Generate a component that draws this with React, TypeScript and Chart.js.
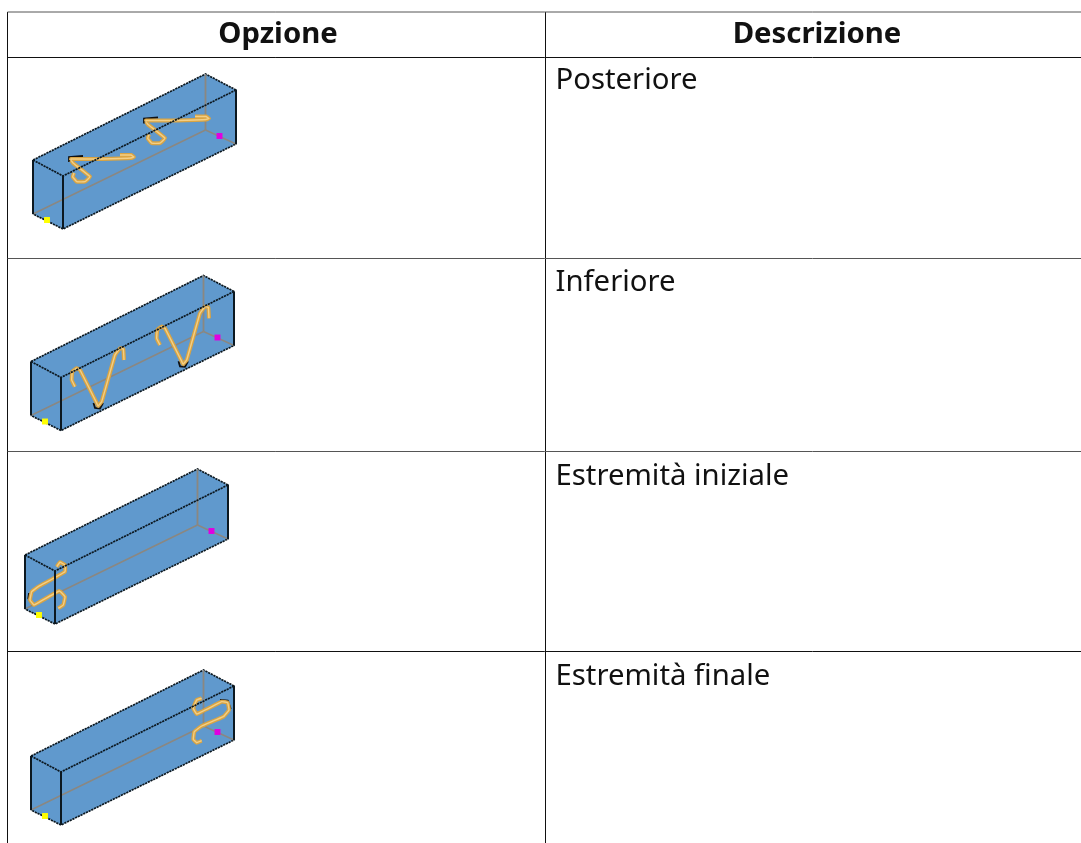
import React, { useEffect, useRef } from "react";
import { Chart, registerables } from "chart.js";

Chart.register(...registerables);

type P = [number, number];

const columnHeaders = ["Opzione", "Descrizione"];
const rowLabels = ["Posteriore", "Inferiore", "Estremità iniziale", "Estremità finale"];

const tableVerticals = [7.5, 545.5];
const columnCentres = [278, 817];
const tableRight = 1081;
const tableHorizontals = [12, 57.5, 258.5, 451.5, 651.5];
const labelBaselines = [89, 291, 485, 685];
const tableBottom = 843;

// Reference box, and where each of the four boxes sits relative to it
const boxOutline: P[] = [[33, 160], [205.5, 74], [236, 90], [236, 144], [63, 229], [33, 214]];
const boxFrontEdges: P[][] = [
  [[33, 160], [63, 176], [236, 90]],
  [[63, 176], [63, 229]],
  [[33, 160], [33, 214]],
  [[236, 90], [236, 144]],
];
const boxHiddenEdges: P[][] = [
  [[205.5, 74], [205.5, 130]],
  [[205.5, 130], [33, 214]],
  [[205.5, 130], [236, 144]],
];
const yellowPoint: P = [47, 220];
const magentaPoint: P = [219.5, 136];
const boxOffsets: P[] = [[0, 0], [-2, 201.5], [-8, 395], [-2, 596]];

const backWireA: P[] = [[71, 160], [73, 163], [90, 176.7], [85, 181.7], [76.7, 181.7], [72.7, 176.7], [74, 173]];
const backWireATop: P[] = [[71, 160], [71, 159], [103, 159], [120, 158.5], [131, 158], [134, 157], [131, 155], [120, 155]];
const backWireB: P[] = backWireA.map(([x, y]) => [x + 75, y - 38.5]);
const backWireBTop: P[] = backWireATop.map(([x, y]) => [x + 75, y - 38.5]);

const bottomWireA: P[] = [[75, 386.7], [71.7, 380], [72.3, 371.7], [76.7, 368.3], [80, 370], [96.7, 403], [98, 406], [101.7, 401.7], [115, 355], [120, 348.3], [123.3, 349], [124, 360]];
const bottomWireB: P[] = bottomWireA.map(([x, y]) => [x + 85, y - 41.7]);

const startWire: P[] = [[56.7, 566.7], [60, 562.3], [65, 565], [65, 571.7], [38.3, 586.7], [31.7, 591.7], [30, 600], [34, 605], [40, 601.7], [59.3, 591], [65, 596.7], [63.3, 605], [58.3, 608.3]];
const endWire: P[] = [[201.7, 698.3], [196.7, 700], [193.3, 708.3], [196.7, 714], [221.7, 701.7], [227.7, 702.7], [229, 710], [223.3, 716.7], [201.7, 726], [194.3, 731.7], [193.3, 739.3], [196.7, 742.7], [201.7, 740.7]];
const wires: P[][] = [backWireA, backWireATop, backWireB, backWireBTop, bottomWireA, bottomWireB, startWire, endWire];

const blackDetails: P[][] = [
  [[69, 162], [69, 157], [83, 156]],
  [[144, 123.5], [144, 118.5], [158, 117.5]],
  [[93.5, 403], [95, 408], [100, 408.5], [103, 403]],
  [[178.5, 361.3], [180, 366.3], [185, 366.8], [188, 361.3]],
  [[29, 593], [28.3, 598.3], [32.7, 605]],
  [[220, 700], [227.7, 700.7], [230.5, 708.3], [224.3, 716]],
];

const BOX_BLUE = "#6099cd";
const EDGE = "#0c1820";
const HIDDEN = "#8b8780";
const WIRE = "#d9a443";
const WIRE_CORE = "#f3cf86";

const toXY = (pts: P[], off: P = [0, 0]) => pts.map(([x, y]) => ({ x: x + off[0], y: y + off[1] }));

const tableText = {
  id: "tableText",
  afterDatasetsDraw(chart: any) {
    const { ctx, scales } = chart;
    const { x, y } = scales;
    ctx.save();
    ctx.fillStyle = "#111";
    ctx.textBaseline = "alphabetic";
    ctx.textAlign = "center";
    ctx.font = 'bold 29.3px "Noto Sans"';
    columnHeaders.forEach((h, i) => ctx.fillText(h, x.getPixelForValue(columnCentres[i]), y.getPixelForValue(43)));
    ctx.textAlign = "left";
    ctx.font = '29.3px "Noto Sans"';
    rowLabels.forEach((label, i) => {
      ctx.fillText(label, x.getPixelForValue(555.5), y.getPixelForValue(labelBaselines[i]));
    });
    ctx.restore();
  },
};

const line = (data: any[], color: string, width: number) => ({
  type: "scatter",
  data,
  showLine: true,
  borderColor: color,
  borderWidth: width,
  pointRadius: 0,
  fill: false,
  tension: 0,
  clip: false,
});

export default function App() {
  const ref = useRef<HTMLCanvasElement>(null);
  useEffect(() => {
    const drawOrder: any[] = [];
    boxOffsets.forEach((off) => {
      drawOrder.push({
        ...line(toXY(boxOutline, off), EDGE, 1.7),
        borderDash: [2.2, 0.8],
        fill: "shape",
        backgroundColor: BOX_BLUE,
      });
      boxHiddenEdges.forEach((e, i) => drawOrder.push(line(toXY(e, off), HIDDEN, i === 0 ? 1.8 : 1.4)));
    });
    blackDetails.forEach((d) => drawOrder.push(line(toXY(d), "#111", 1.8)));
    wires.forEach((w) => {
      drawOrder.push({ ...line(toXY(w), WIRE, 4), tension: 0.08 });
      drawOrder.push({ ...line(toXY(w), WIRE_CORE, 1.4), tension: 0.08 });
    });
    boxOffsets.forEach((off) => {
      boxFrontEdges.forEach((e, i) => drawOrder.push({ ...line(toXY(e, off), EDGE, i === 0 ? 1.7 : 2), borderDash: i === 0 ? [2.2, 0.8] : [] }));
      drawOrder.push({ type: "scatter", data: toXY([yellowPoint], off), pointStyle: "rect", pointRadius: 4.2, pointBackgroundColor: "#ffff00", pointBorderWidth: 0, clip: false });
      drawOrder.push({ type: "scatter", data: toXY([magentaPoint], off), pointStyle: "rect", pointRadius: 4.2, pointBackgroundColor: "#e000e0", pointBorderWidth: 0, clip: false });
    });
    tableVerticals.forEach((xv) => drawOrder.push(line([{ x: xv, y: tableHorizontals[0] }, { x: xv, y: tableBottom }], "#111", 1)));
    tableHorizontals.forEach((yv, i) =>
      drawOrder.push(line([{ x: tableVerticals[0], y: yv }, { x: tableRight, y: yv }], i === 0 || i === 2 || i === 3 ? "#555" : "#111", 1))
    );
    const datasets = drawOrder.map((d, i) => ({ ...d, order: drawOrder.length - i }));
    const chart = new Chart(ref.current!, {
      type: "scatter",
      data: { datasets },
      plugins: [tableText],
      options: {
        animation: false,
        responsive: false,
        layout: { padding: 0, autoPadding: false },
        plugins: { legend: { display: false }, tooltip: { enabled: false }, title: { display: false } },
        scales: {
          x: { type: "linear", display: false, min: 0, max: 1081 },
          y: { type: "linear", display: false, min: 0, max: 843, reverse: true },
        },
      },
    } as any);
    return () => chart.destroy();
  }, []);
  return (
    <canvas
      ref={ref}
      width={1081}
      height={843}
      style={{ position: "fixed", left: 0, top: 0, display: "block", background: "#fff" }}
    />
  );
}
